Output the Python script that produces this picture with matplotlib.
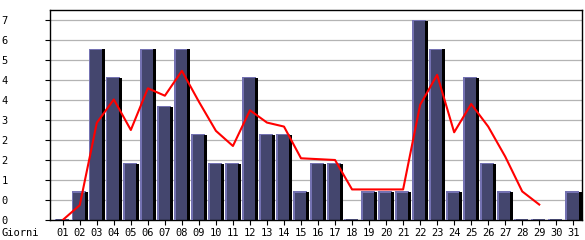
import matplotlib
matplotlib.use("Agg")
import matplotlib.pyplot as plt
from matplotlib.patches import Rectangle

days = ["01","02","03","04","05","06","07","08","09","10","11","12","13","14","15","16",
        "17","18","19","20","21","22","23","24","25","26","27","28","29","30","31"]
visits = [0, 1, 6, 5, 2, 6, 4, 6, 3, 2, 2, 5, 3, 3, 1, 2, 2, 0, 1, 1, 1, 7, 6, 1, 5, 2, 1, 0, 0, 0, 1]
trend = [0, 0.52, 3.4, 4.22, 3.15, 4.61, 4.35, 5.22, 4.14, 3.12, 2.59, 3.84, 3.41, 3.27, 2.16,
         2.13, 2.1, 1.07, 1.07, 1.07, 1.07, 4.03, 5.08, 3.07, 4.06, 3.27, 2.22, 1.0, 0.54]
ytick_vals = [0.7, 1.4, 2.1, 2.8, 3.5, 4.2, 4.9, 5.6, 6.3, 7.0]
ytick_labels = ["0", "1", "2", "2", "3", "4", "4", "5", "6", "7"]
xlabel_text = "Giorni"

FILL = "#44466e"
LIGHT = "#7472b2"

fig = plt.figure(figsize=(5.85, 2.4), dpi=100)
ax = fig.add_axes([50/585, 20/240, (582.3-50)/585, 210/240])
ax.set_xlim(0.25, 31.53)
ax.set_ylim(0, 7.35)

for v in ytick_vals:
    ax.axhline(v, color="#b4b4b4", lw=0.9, zorder=0)

xs = list(range(1, len(days) + 1))
px = 1/17.02  # one pixel in x data units
py = 7.0/200  # one pixel in y data units
for x, h in zip(xs, visits):
    left = x - 0.46
    w = 0.80
    if h > 0:
        ax.add_patch(Rectangle((left, 0), w, h, facecolor=FILL, edgecolor="none", zorder=2))
        ax.add_patch(Rectangle((left, 0), 1.5*px, h, facecolor=LIGHT, edgecolor="none", zorder=3))
        ax.add_patch(Rectangle((left, h - 1.2*py), w, 1.2*py, facecolor=LIGHT, edgecolor="none", zorder=3))
        ax.add_patch(Rectangle((left + w - 0.5*px, 0), 3.0*px, h - 0.8*py, facecolor="black",
                               edgecolor="none", zorder=3))
    else:
        ax.add_patch(Rectangle((left, 0), w, 1.2*py, facecolor=LIGHT, edgecolor="none", zorder=3))
        ax.add_patch(Rectangle((left + 1.5*px, 0), w - 1.5*px, 0.6*py, facecolor=FILL,
                               edgecolor="none", zorder=3))

ax.plot(xs[:len(trend)], trend, color="#ff0000", lw=1.5, zorder=5)

ax.set_xticks(xs)
ax.set_xticklabels(days)
ax.set_yticks([0] + ytick_vals)
ax.set_yticklabels(["0"] + ytick_labels)

for lab in ax.get_xticklabels() + ax.get_yticklabels():
    lab.set_fontfamily("DejaVu Sans Mono")
    lab.set_fontsize(7.5)
ax.tick_params(axis="x", direction="out", length=3.5, width=0.8, pad=2, colors="black")
ax.tick_params(axis="y", direction="out", length=3.5, width=0.8, pad=27, colors="black")

for s in ax.spines.values():
    s.set_color("black")
    s.set_linewidth(1.0)

fig.text(1/585, 1 - 228/240, xlabel_text, fontfamily="DejaVu Sans Mono", fontsize=7.5,
         ha="left", va="top")

fig.savefig("out.png", dpi=100)
